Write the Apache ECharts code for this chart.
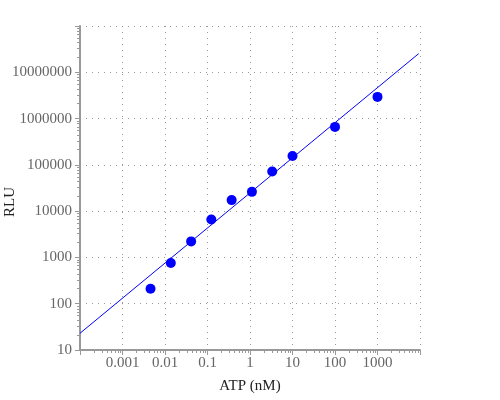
<!DOCTYPE html>
<html>
<head>
<meta charset="utf-8">
<script src="https://cdn.jsdelivr.net/npm/echarts@6/dist/echarts.min.js"></script>
<style>
  html, body { margin: 0; padding: 0; background: #fff; }
  #chart { width: 500px; height: 400px; }
</style>
</head>
<body>
<div id="chart"></div>
<script>
// ATP concentration (nM) and luminescence readings
var atp = [0.00457, 0.0137, 0.0412, 0.123, 0.37, 1.11, 3.33, 10, 100, 1000];
var rlu = [210, 755, 2220, 6620, 17300, 26100, 71900, 156000, 661000, 2940000];

// end points of the fitted line
var fitX = [0.0001, 9300];
var fitY = [23, 25300000];

var chart = echarts.init(document.getElementById('chart'));

var labelFmt = function (v) { return String(+v.toPrecision(6)); };
var axisGray = '#999';

chart.setOption({
  animation: false,
  grid: { left: 80, right: 80, top: 26, bottom: 50, containLabel: false, outerBoundsMode: 'none' },
  xAxis: {
    type: 'log',
    logBase: 10,
    min: 0.0001,
    max: 10000,
    name: 'ATP (nM)',
    nameLocation: 'middle',
    nameGap: 29,
    nameMoveOverlap: false,
    nameTextStyle: { fontFamily: 'Liberation Serif', fontSize: 15, color: '#222' },
    axisLine: { lineStyle: { color: axisGray, width: 2 } },
    axisTick: { length: 5, lineStyle: { color: axisGray } },
    minorTick: { show: true, splitNumber: 8, length: 3, lineStyle: { color: axisGray } },
    axisLabel: {
      formatter: labelFmt, margin: 6, showMinLabel: false, showMaxLabel: false,
      fontFamily: 'Liberation Serif', fontSize: 15, color: '#666'
    },
    splitLine: { show: true, lineStyle: { color: axisGray, type: [1, 5] } }
  },
  yAxis: {
    type: 'log',
    logBase: 10,
    min: 10,
    max: 100000000,
    name: 'RLU',
    nameLocation: 'middle',
    nameRotate: 90,
    nameGap: 62,
    nameMoveOverlap: false,
    nameTextStyle: { fontFamily: 'Liberation Serif', fontSize: 15, color: '#222', padding: [0, 28, 0, 0] },
    axisLine: { lineStyle: { color: axisGray, width: 2 } },
    axisTick: { length: 5, lineStyle: { color: axisGray } },
    minorTick: { show: true, splitNumber: 8, length: 3, lineStyle: { color: axisGray } },
    axisLabel: {
      formatter: labelFmt, margin: 8, showMaxLabel: false,
      fontFamily: 'Liberation Serif', fontSize: 15, color: '#666'
    },
    splitLine: { show: true, lineStyle: { color: axisGray, type: [1, 5] } }
  },
  series: [
    {
      type: 'line',
      data: fitX.map(function (x, i) { return [x, fitY[i]]; }),
      showSymbol: false,
      lineStyle: { color: '#0000ff', width: 1 },
      z: 2
    },
    {
      type: 'scatter',
      data: atp.map(function (x, i) { return [x, rlu[i]]; }),
      symbolSize: 10,
      itemStyle: { color: '#0000ff', opacity: 1 },
      z: 3
    }
  ]
});
</script>
</body>
</html>
